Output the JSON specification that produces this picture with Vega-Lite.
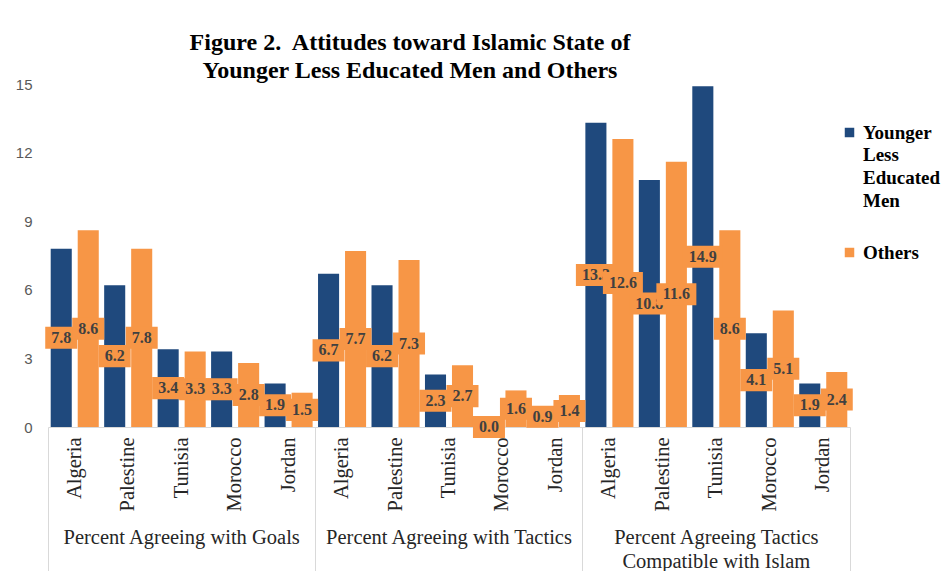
{
  "$schema": "https://vega.github.io/schema/vega-lite/v6.json",
  "autosize": "none",
  "width": 802,
  "height": 343,
  "padding": {"left": 48, "top": 84, "right": 99, "bottom": 144},
  "background": "white",
  "title": {
    "text": ["Figure 2.\u00a0 Attitudes toward Islamic State of", "Younger Less Educated Men and Others"],
    "font": "Liberation Serif",
    "fontSize": 24,
    "fontWeight": "bold",
    "color": "#000000",
    "anchor": "middle",
    "dx": -39,
    "offset": -6,
    "lineHeight": 28
  },
  "config": {
    "view": {"stroke": null},
    "legend": {
      "labelFont": "Liberation Serif",
      "labelFontSize": 19,
      "labelFontWeight": "bold",
      "labelColor": "#000000",
      "symbolType": "square",
      "symbolSize": 90,
      "symbolStrokeWidth": 0
    }
  },
  "data": {
    "values": [
      {"group": "Goals", "key": "Goals|Algeria", "series": "Younger Less Educated Men", "value": 7.8},
      {"group": "Goals", "key": "Goals|Algeria", "series": "Others", "value": 8.6},
      {"group": "Goals", "key": "Goals|Palestine", "series": "Younger Less Educated Men", "value": 6.2},
      {"group": "Goals", "key": "Goals|Palestine", "series": "Others", "value": 7.8},
      {"group": "Goals", "key": "Goals|Tunisia", "series": "Younger Less Educated Men", "value": 3.4},
      {"group": "Goals", "key": "Goals|Tunisia", "series": "Others", "value": 3.3},
      {"group": "Goals", "key": "Goals|Morocco", "series": "Younger Less Educated Men", "value": 3.3},
      {"group": "Goals", "key": "Goals|Morocco", "series": "Others", "value": 2.8},
      {"group": "Goals", "key": "Goals|Jordan", "series": "Younger Less Educated Men", "value": 1.9},
      {"group": "Goals", "key": "Goals|Jordan", "series": "Others", "value": 1.5},
      {"group": "Tactics", "key": "Tactics|Algeria", "series": "Younger Less Educated Men", "value": 6.7},
      {"group": "Tactics", "key": "Tactics|Algeria", "series": "Others", "value": 7.7},
      {"group": "Tactics", "key": "Tactics|Palestine", "series": "Younger Less Educated Men", "value": 6.2},
      {"group": "Tactics", "key": "Tactics|Palestine", "series": "Others", "value": 7.3},
      {"group": "Tactics", "key": "Tactics|Tunisia", "series": "Younger Less Educated Men", "value": 2.3},
      {"group": "Tactics", "key": "Tactics|Tunisia", "series": "Others", "value": 2.7},
      {"group": "Tactics", "key": "Tactics|Morocco", "series": "Younger Less Educated Men", "value": 0.0},
      {"group": "Tactics", "key": "Tactics|Morocco", "series": "Others", "value": 1.6},
      {"group": "Tactics", "key": "Tactics|Jordan", "series": "Younger Less Educated Men", "value": 0.9},
      {"group": "Tactics", "key": "Tactics|Jordan", "series": "Others", "value": 1.4},
      {"group": "Compat", "key": "Compat|Algeria", "series": "Younger Less Educated Men", "value": 13.3},
      {"group": "Compat", "key": "Compat|Algeria", "series": "Others", "value": 12.6},
      {"group": "Compat", "key": "Compat|Palestine", "series": "Younger Less Educated Men", "value": 10.8},
      {"group": "Compat", "key": "Compat|Palestine", "series": "Others", "value": 11.6},
      {"group": "Compat", "key": "Compat|Tunisia", "series": "Younger Less Educated Men", "value": 14.9},
      {"group": "Compat", "key": "Compat|Tunisia", "series": "Others", "value": 8.6},
      {"group": "Compat", "key": "Compat|Morocco", "series": "Younger Less Educated Men", "value": 4.1},
      {"group": "Compat", "key": "Compat|Morocco", "series": "Others", "value": 5.1},
      {"group": "Compat", "key": "Compat|Jordan", "series": "Younger Less Educated Men", "value": 1.9},
      {"group": "Compat", "key": "Compat|Jordan", "series": "Others", "value": 2.4}
    ]
  },
  "resolve": {"scale": {"y": "independent"}, "axis": {"x": "independent", "y": "independent"}},
  "layer": [
    {
      "mark": {"type": "bar"},
      "encoding": {
        "x": {
          "field": "key", "type": "nominal", "sort": null,
          "scale": {"paddingInner": 0, "paddingOuter": 0},
          "axis": {
            "orient": "bottom",
            "title": null, "ticks": false, "domain": true, "domainColor": "#d9d9d9",
            "labelAngle": -90, "labelPadding": 10, "labelFont": "Liberation Serif",
            "labelFontSize": 20.5, "labelColor": "#262626",
            "labelExpr": "split(datum.value, '|')[1]"
          }
        },
        "xOffset": {"field": "series", "type": "nominal", "sort": ["Younger Less Educated Men", "Others"],
          "scale": {"paddingInner": 0.22, "paddingOuter": 0.1}},
        "y": {
          "field": "value", "type": "quantitative",
          "scale": {"domain": [0, 15], "nice": false},
          "axis": {
            "orient": "left",
            "title": null, "values": [0, 3, 6, 9, 12, 15], "grid": false, "ticks": false, "domain": false,
            "labelFont": "Liberation Sans", "labelFontSize": 15, "labelColor": "#595959", "labelPadding": 16
          }
        },
        "color": {
          "field": "series", "type": "nominal", "sort": ["Younger Less Educated Men", "Others"],
          "scale": {"domain": ["Younger Less Educated Men", "Others"], "range": ["#1F497D", "#F79646"]},
          "legend": {
            "title": null, "orient": "none", "legendX": 792, "legendY": 39, "rowPadding": 32,
            "labelExpr": "datum.label == 'Younger Less Educated Men' ? ['Younger', 'Less', 'Educated', 'Men'] : datum.label",
            "encode": {"labels": {"update": {"lineHeight": {"value": 22.7}}}}
          }
        }
      }
    },
    {
      "transform": [{"filter": "datum.series == 'Younger Less Educated Men'"}],
      "mark": {"type": "point", "filled": true, "opacity": 1, "color": "#F79646", "strokeWidth": 0},
      "encoding": {
        "x": {
          "field": "key", "type": "nominal", "sort": null,
          "axis": {
            "orient": "bottom",
            "title": null, "ticks": false, "domain": false, "labels": true, "labelLimit": 400, "labelOverlap": false,
            "values": ["Goals|Tunisia", "Tactics|Tunisia", "Compat|Tunisia"],
            "labelAngle": 0, "labelAlign": "center", "labelBaseline": "top", "labelPadding": 100,
            "labelFont": "Liberation Serif", "labelFontSize": 20.5, "labelColor": "#262626", "labelLineHeight": 24,
            "labelExpr": "datum.value == 'Goals|Tunisia' ? 'Percent Agreeing with Goals' : datum.value == 'Tactics|Tunisia' ? 'Percent Agreeing with Tactics' : ['Percent Agreeing Tactics', 'Compatible with Islam']"
          }
        },
        "xOffset": {"field": "series", "type": "nominal", "sort": ["Younger Less Educated Men", "Others"]},
        "y": {"field": "value", "type": "quantitative", "scale": {"domain": [0, 30], "nice": false}, "axis": null},
        "shape": {"condition": {"test": "datum.value >= 10", "value": "M-1,-0.55H1V0.55H-1Z"}, "value": "M-1,-0.69H1V0.69H-1Z"},
        "size": {"condition": {"test": "datum.value >= 10", "value": 1600}, "value": 1024}
      }
    },
    {
      "transform": [{"filter": "datum.series == 'Younger Less Educated Men'"}],
      "mark": {"type": "text", "font": "Liberation Serif", "fontWeight": "bold", "fontSize": 16, "color": "#404040", "baseline": "middle"},
      "encoding": {
        "x": {
          "field": "key", "type": "nominal", "sort": null,
          "axis": {
            "orient": "bottom",
            "title": null, "labels": false, "domain": false, "ticks": true, "bandPosition": 0,
            "values": ["Goals|Algeria", "Tactics|Algeria", "Compat|Algeria"],
            "tickSize": 144, "tickColor": "#d9d9d9", "tickWidth": 1
          }
        },
        "xOffset": {"field": "series", "type": "nominal", "sort": ["Younger Less Educated Men", "Others"]},
        "y": {"field": "value", "type": "quantitative", "scale": {"domain": [0, 30], "nice": false}, "axis": null},
        "text": {"field": "value", "type": "quantitative", "format": ".1f"}
      }
    },
    {
      "transform": [{"filter": "datum.series == 'Others'"}],
      "mark": {"type": "point", "filled": true, "opacity": 1, "color": "#F79646", "strokeWidth": 0},
      "encoding": {
        "x": {
          "field": "key", "type": "nominal", "sort": null,
          "axis": {
            "orient": "bottom",
            "title": null, "labels": false, "domain": false, "ticks": true, "bandPosition": 1,
            "values": ["Compat|Jordan"],
            "tickSize": 144, "tickColor": "#d9d9d9", "tickWidth": 1
          }
        },
        "xOffset": {"field": "series", "type": "nominal", "sort": ["Younger Less Educated Men", "Others"]},
        "y": {"field": "value", "type": "quantitative", "scale": {"domain": [0, 30], "nice": false}, "axis": null},
        "shape": {"condition": {"test": "datum.value >= 10", "value": "M-1,-0.55H1V0.55H-1Z"}, "value": "M-1,-0.69H1V0.69H-1Z"},
        "size": {"condition": {"test": "datum.value >= 10", "value": 1600}, "value": 1024}
      }
    },
    {
      "transform": [{"filter": "datum.series == 'Others'"}],
      "mark": {"type": "text", "font": "Liberation Serif", "fontWeight": "bold", "fontSize": 16, "color": "#404040", "baseline": "middle"},
      "encoding": {
        "x": {"field": "key", "type": "nominal", "sort": null, "axis": null},
        "xOffset": {"field": "series", "type": "nominal", "sort": ["Younger Less Educated Men", "Others"]},
        "y": {"field": "value", "type": "quantitative", "scale": {"domain": [0, 30], "nice": false}, "axis": null},
        "text": {"field": "value", "type": "quantitative", "format": ".1f"}
      }
    }
  ]
}
